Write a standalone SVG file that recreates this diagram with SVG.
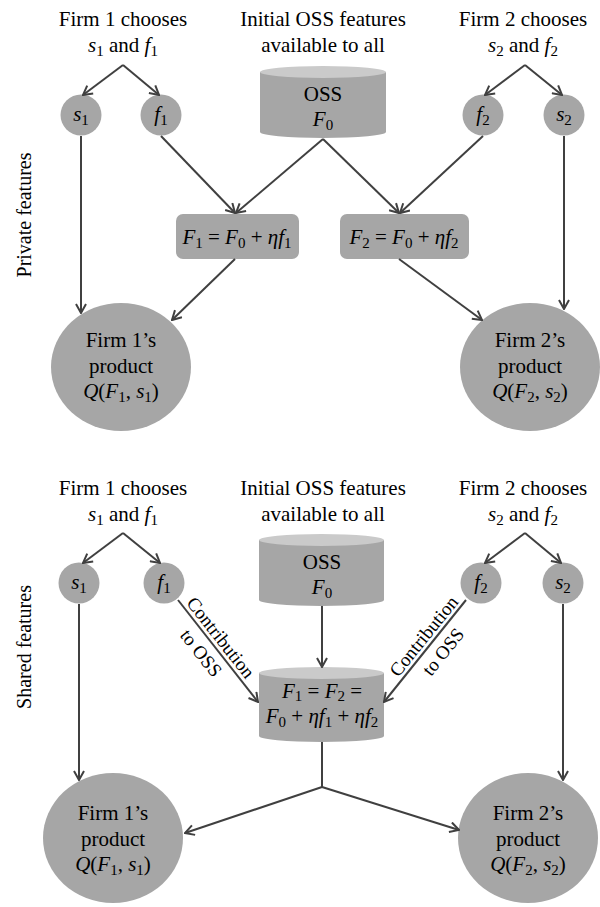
<svg xmlns="http://www.w3.org/2000/svg" width="600" height="907" viewBox="0 0 600 907">
<defs>
<style>
.t{font-family:"Liberation Serif","Times New Roman",serif;font-size:21px;fill:#000;text-anchor:middle}
.lbl{font-size:20px}
.c{font-size:19px}
.i{font-style:italic}
.sb{font-size:15px}
.nd{fill:#a6a6a6}
.ct{fill:#cacaca}
.e{stroke:#404040;stroke-width:2;fill:none}
.a{marker-end:url(#arr)}
</style>
<marker id="arr" viewBox="0 0 12 12" refX="11" refY="6" markerWidth="12" markerHeight="12" markerUnits="userSpaceOnUse" orient="auto">
<path d="M2,1 L11,6 L2,11" fill="none" stroke="#404040" stroke-width="2" stroke-linejoin="miter"/>
</marker>
</defs>
<rect width="600" height="907" fill="#fff"/>

<!-- side labels -->
<g id="label-private"><text class="t lbl" transform="translate(31,215) rotate(-90)">Private features</text></g>
<g id="label-shared"><text class="t lbl" transform="translate(31,647) rotate(-90)">Shared features</text></g>

<!-- ===== TOP PANEL ===== -->
<g id="p-firm1-choice">
<text class="t" x="123" y="26">Firm 1 chooses</text>
<text class="t" x="123" y="52"><tspan class="i">s</tspan><tspan class="sb" dy="4">1</tspan><tspan dy="-4"> and </tspan><tspan class="i">f</tspan><tspan class="sb" dy="4">1</tspan></text>
</g>
<g id="p-initial">
<text class="t" x="323" y="26">Initial OSS features</text>
<text class="t" x="323" y="52">available to all</text>
</g>
<g id="p-firm2-choice">
<text class="t" x="523" y="26">Firm 2 chooses</text>
<text class="t" x="523" y="52"><tspan class="i">s</tspan><tspan class="sb" dy="4">2</tspan><tspan dy="-4"> and </tspan><tspan class="i">f</tspan><tspan class="sb" dy="4">2</tspan></text>
</g>
<g id="p-s1">
<circle class="nd" cx="81" cy="115" r="20.5"/>
<text class="t" x="81" y="121"><tspan class="i">s</tspan><tspan class="sb" dy="4">1</tspan></text>
</g>
<g id="p-f1">
<circle class="nd" cx="161" cy="115" r="20.5"/>
<text class="t" x="161" y="121"><tspan class="i">f</tspan><tspan class="sb" dy="4">1</tspan></text>
</g>
<g id="p-f2">
<circle class="nd" cx="483" cy="115" r="20.5"/>
<text class="t" x="483" y="121"><tspan class="i">f</tspan><tspan class="sb" dy="4">2</tspan></text>
</g>
<g id="p-s2">
<circle class="nd" cx="564" cy="115" r="20.5"/>
<text class="t" x="564" y="121"><tspan class="i">s</tspan><tspan class="sb" dy="4">2</tspan></text>
</g>
<g id="p-oss">
<path class="nd" d="M260,72 L260,132 A63,6 0 0 0 386,132 L386,72 Z"/>
<ellipse class="ct" cx="323" cy="72" rx="63" ry="6"/>
<text class="t" x="323" y="101">OSS</text>
<text class="t" x="323" y="126"><tspan class="i">F</tspan><tspan class="sb" dy="4">0</tspan></text>
</g>
<g id="p-F1">
<rect class="nd" x="176" y="214" width="123" height="45" rx="7"/>
<text class="t" x="237" y="244"><tspan class="i">F</tspan><tspan class="sb" dy="4">1</tspan><tspan dy="-4"> = </tspan><tspan class="i">F</tspan><tspan class="sb" dy="4">0</tspan><tspan dy="-4"> + </tspan><tspan class="i">ηf</tspan><tspan class="sb" dy="4">1</tspan></text>
</g>
<g id="p-F2">
<rect class="nd" x="340" y="214" width="129" height="45" rx="7"/>
<text class="t" x="404" y="244"><tspan class="i">F</tspan><tspan class="sb" dy="4">2</tspan><tspan dy="-4"> = </tspan><tspan class="i">F</tspan><tspan class="sb" dy="4">0</tspan><tspan dy="-4"> + </tspan><tspan class="i">ηf</tspan><tspan class="sb" dy="4">2</tspan></text>
</g>
<g id="p-prod1">
<ellipse class="nd" cx="121" cy="367" rx="70" ry="64"/>
<text class="t" x="121" y="347">Firm 1’s</text>
<text class="t" x="121" y="373">product</text>
<text class="t" x="121" y="398"><tspan class="i">Q</tspan>(<tspan class="i">F</tspan><tspan class="sb" dy="4">1</tspan><tspan dy="-4">, </tspan><tspan class="i">s</tspan><tspan class="sb" dy="4">1</tspan><tspan dy="-4">)</tspan></text>
</g>
<g id="p-prod2">
<ellipse class="nd" cx="530" cy="367" rx="70" ry="64"/>
<text class="t" x="530" y="347">Firm 2’s</text>
<text class="t" x="530" y="373">product</text>
<text class="t" x="530" y="398"><tspan class="i">Q</tspan>(<tspan class="i">F</tspan><tspan class="sb" dy="4">2</tspan><tspan dy="-4">, </tspan><tspan class="i">s</tspan><tspan class="sb" dy="4">2</tspan><tspan dy="-4">)</tspan></text>
</g>

<!-- ===== BOTTOM PANEL ===== -->
<g id="s-firm1-choice">
<text class="t" x="123" y="495">Firm 1 chooses</text>
<text class="t" x="123" y="521"><tspan class="i">s</tspan><tspan class="sb" dy="4">1</tspan><tspan dy="-4"> and </tspan><tspan class="i">f</tspan><tspan class="sb" dy="4">1</tspan></text>
</g>
<g id="s-initial">
<text class="t" x="323" y="495">Initial OSS features</text>
<text class="t" x="323" y="521">available to all</text>
</g>
<g id="s-firm2-choice">
<text class="t" x="523" y="495">Firm 2 chooses</text>
<text class="t" x="523" y="521"><tspan class="i">s</tspan><tspan class="sb" dy="4">2</tspan><tspan dy="-4"> and </tspan><tspan class="i">f</tspan><tspan class="sb" dy="4">2</tspan></text>
</g>
<g id="s-s1">
<circle class="nd" cx="79" cy="583" r="20.5"/>
<text class="t" x="79" y="589"><tspan class="i">s</tspan><tspan class="sb" dy="4">1</tspan></text>
</g>
<g id="s-f1">
<circle class="nd" cx="164" cy="583" r="20.5"/>
<text class="t" x="164" y="589"><tspan class="i">f</tspan><tspan class="sb" dy="4">1</tspan></text>
</g>
<g id="s-f2">
<circle class="nd" cx="481" cy="583" r="20.5"/>
<text class="t" x="481" y="589"><tspan class="i">f</tspan><tspan class="sb" dy="4">2</tspan></text>
</g>
<g id="s-s2">
<circle class="nd" cx="563" cy="583" r="20.5"/>
<text class="t" x="563" y="589"><tspan class="i">s</tspan><tspan class="sb" dy="4">2</tspan></text>
</g>
<g id="s-oss">
<path class="nd" d="M259,540 L259,600 A62.5,6 0 0 0 384,600 L384,540 Z"/>
<ellipse class="ct" cx="321.5" cy="540" rx="62.5" ry="6"/>
<text class="t" x="322" y="569">OSS</text>
<text class="t" x="322" y="594"><tspan class="i">F</tspan><tspan class="sb" dy="4">0</tspan></text>
</g>
<g id="s-shared">
<path class="nd" d="M259,673 L259,736 A62.5,6 0 0 0 384,736 L384,673 Z"/>
<ellipse class="ct" cx="321.5" cy="673" rx="62.5" ry="6"/>
<text class="t" x="322" y="698"><tspan class="i">F</tspan><tspan class="sb" dy="3">1</tspan><tspan dy="-3"> = </tspan><tspan class="i">F</tspan><tspan class="sb" dy="3">2</tspan><tspan dy="-3"> =</tspan></text>
<text class="t" x="322" y="723"><tspan class="i">F</tspan><tspan class="sb" dy="4">0</tspan><tspan dy="-4"> + </tspan><tspan class="i">ηf</tspan><tspan class="sb" dy="4">1</tspan><tspan dy="-4"> + </tspan><tspan class="i">ηf</tspan><tspan class="sb" dy="4">2</tspan></text>
</g>
<g id="s-prod1">
<ellipse class="nd" cx="113" cy="838" rx="70" ry="65"/>
<text class="t" x="113" y="820">Firm 1’s</text>
<text class="t" x="113" y="846">product</text>
<text class="t" x="113" y="871"><tspan class="i">Q</tspan>(<tspan class="i">F</tspan><tspan class="sb" dy="4">1</tspan><tspan dy="-4">, </tspan><tspan class="i">s</tspan><tspan class="sb" dy="4">1</tspan><tspan dy="-4">)</tspan></text>
</g>
<g id="s-prod2">
<ellipse class="nd" cx="528" cy="838" rx="70" ry="65"/>
<text class="t" x="528" y="820">Firm 2’s</text>
<text class="t" x="528" y="846">product</text>
<text class="t" x="528" y="871"><tspan class="i">Q</tspan>(<tspan class="i">F</tspan><tspan class="sb" dy="4">2</tspan><tspan dy="-4">, </tspan><tspan class="i">s</tspan><tspan class="sb" dy="4">2</tspan><tspan dy="-4">)</tspan></text>
</g>

<!-- ===== CONNECTORS ===== -->
<g id="connectors">
<path class="e a" d="M123,65 L83,95"/>
<path class="e a" d="M123,65 L159,95"/>
<path class="e a" d="M525,65 L485,95"/>
<path class="e a" d="M525,65 L562,95"/>
<path class="e a" d="M81,136 L81,313"/>
<path class="e a" d="M161,136 L235,213"/>
<path class="e a" d="M323,139 L236,213"/>
<path class="e a" d="M323,139 L399,213"/>
<path class="e a" d="M483,136 L400,213"/>
<path class="e a" d="M564,136 L564,309"/>
<path class="e a" d="M235,259 L172,320"/>
<path class="e a" d="M399,259 L482,320"/>

<path class="e a" d="M123,533 L83,563"/>
<path class="e a" d="M123,533 L160,563"/>
<path class="e a" d="M525,533 L485,563"/>
<path class="e a" d="M525,533 L561,563"/>
<path class="e a" d="M79,604 L79,780"/>
<path class="e a" d="M563,604 L563,780"/>
<path class="e a" d="M178,600 L258,702"/>
<path class="e a" d="M466,600 L384,702"/>
<path class="e a" d="M322,606 L322,667"/>
<path class="e" d="M322,742 L322,787"/>
<path class="e a" d="M322,787 L185,833"/>
<path class="e a" d="M322,787 L459,830"/>

<g id="contrib-left" transform="translate(212.6,644) rotate(51.8)">
<text class="t c" x="0" y="-4">Contribution</text>
<text class="t c" x="0" y="21">to OSS</text>
</g>
<g id="contrib-right" transform="translate(431.8,642.6) rotate(-51.1)">
<text class="t c" x="0" y="-4">Contribution</text>
<text class="t c" x="0" y="21">to OSS</text>
</g>
</g>
</svg>
